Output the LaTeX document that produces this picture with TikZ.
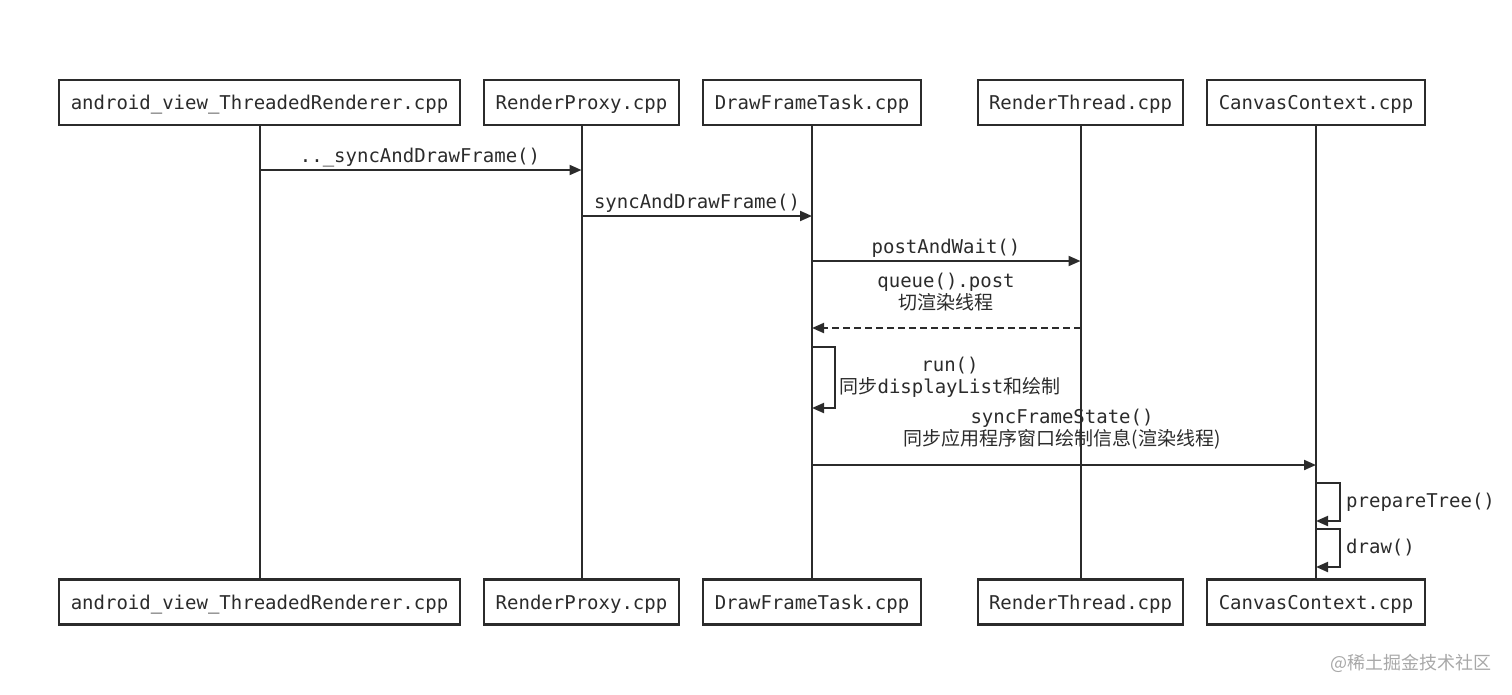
\documentclass[tikz,border=0pt]{standalone}
\usepackage{fontspec}
\newfontfamily\mono{DejaVu Sans Mono}
\newfontfamily\cjk{Noto Sans CJK SC}
\usetikzlibrary{arrows.meta}
\definecolor{ink}{HTML}{2B2B2B}
\definecolor{wm}{HTML}{A8A8A8}
\begin{document}
\begin{tikzpicture}[x=1pt,y=-1pt,
  txt/.style={font=\mono\fontsize{19}{22}\selectfont, text=ink},
  obj/.style={txt, draw=ink, line width=2.4pt, minimum height=45pt, inner sep=0pt, text height=16pt, text depth=2pt},
  life/.style={draw=ink, line width=2pt},
  msg/.style={draw=ink, line width=2pt, -{Triangle[length=12pt,width=10pt]}},
  ret/.style={msg, dash pattern=on 7pt off 4pt},
  lbl/.style={txt, inner sep=0pt, align=center}]
\useasboundingbox (0,0) rectangle (1512,694);
% top boxes
\node[obj, minimum width=401pt] (a1) at (259.5,102.5) {android\_view\_ThreadedRenderer.cpp};
\node[obj, minimum width=195pt] (b1) at (581.5,102.5) {RenderProxy.cpp};
\node[obj, minimum width=218pt] (c1) at (812,102.5) {DrawFrameTask.cpp};
\node[obj, minimum width=205pt] (d1) at (1080.5,102.5) {RenderThread.cpp};
\node[obj, minimum width=218pt] (e1) at (1316,102.5) {CanvasContext.cpp};
% bottom boxes
\node[obj, minimum width=401pt] (a2) at (259.5,602) {android\_view\_ThreadedRenderer.cpp};
\node[obj, minimum width=195pt] (b2) at (581.5,602) {RenderProxy.cpp};
\node[obj, minimum width=218pt] (c2) at (812,602) {DrawFrameTask.cpp};
\node[obj, minimum width=205pt] (d2) at (1080.5,602) {RenderThread.cpp};
\node[obj, minimum width=218pt] (e2) at (1316,602) {CanvasContext.cpp};
% lifelines
\draw[life] (a1) -- (a2);
\draw[life] (b1) -- (b2);
\draw[life] (c1) -- (c2);
\draw[life] (d1) -- (d2);
\draw[life] (e1) -- (e2);
% message points
\coordinate (m1a) at (259.5,170); \coordinate (m1b) at (581.5,170);
\coordinate (m2a) at (581.5,216); \coordinate (m2b) at (812,216);
\coordinate (m3a) at (812,261);   \coordinate (m3b) at (1080.5,261);
\coordinate (m4a) at (1080.5,328);\coordinate (m4b) at (812,328);
\coordinate (s1a) at (812,347);   \coordinate (s1b) at (812,408);
\coordinate (m6a) at (812,465);   \coordinate (m6b) at (1316,465);
\coordinate (s2a) at (1316,483);  \coordinate (s2b) at (1316,521);
\coordinate (s3a) at (1316,529);  \coordinate (s3b) at (1316,567);
% messages
\draw[msg] (m1a) -- (m1b);
\node[lbl] (l1) at (420,157.5) {..\_syncAndDrawFrame()};
\draw[msg] (m2a) -- (m2b);
\node[lbl] (l2) at (697,203.5) {syncAndDrawFrame()};
\draw[msg] (m3a) -- (m3b);
\node[lbl] (l3) at (946,248.5) {postAndWait()};
\draw[ret] (m4a) -- (m4b);
\node[lbl] (l4) at (946,292) {queue().post\\{\cjk 切渲染线程}};
\draw[msg] (s1a) -- ++(23,0) |- (s1b);
\node[lbl] (l5) at (950,377) {run()\\{\cjk 同步}displayList{\cjk 和绘制}};
\draw[msg] (m6a) -- (m6b);
\node[lbl] (l6) at (1062,429) {syncFrameState()\\{\cjk 同步应用程序窗口绘制信息(渲染线程)}};
\draw[msg] (s2a) -- ++(24,0) |- (s2b);
\node[lbl, anchor=west] (l7) at (1346,502) {prepareTree()};
\draw[msg] (s3a) -- ++(24,0) |- (s3b);
\node[lbl, anchor=west] (l8) at (1346,548) {draw()};
% watermark
\node[font=\cjk\fontsize{18}{20}\selectfont, text=wm, inner sep=0pt] (wm) at (1411,663) {@稀土掘金技术社区};
\end{tikzpicture}
\end{document}
